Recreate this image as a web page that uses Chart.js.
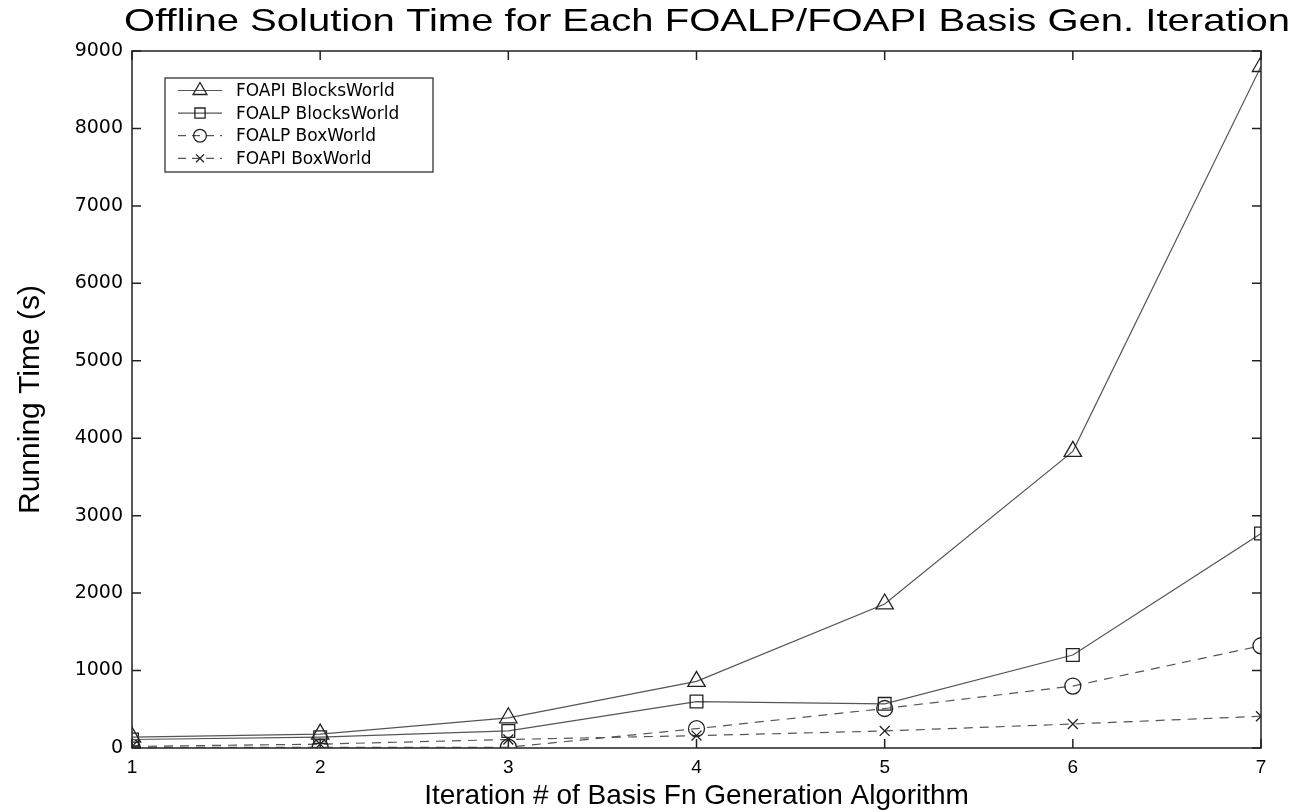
<!DOCTYPE html>
<html>
<head>
<meta charset="utf-8">
<script src="https://cdn.jsdelivr.net/npm/chart.js@4/dist/chart.umd.min.js"></script>
<style>
  html, body { margin: 0; padding: 0; background: #fff; }
  #wrap { width: 1296px; height: 812px; }
</style>
</head>
<body>
<div id="wrap"><canvas id="chart"></canvas></div>
<script>
// data
var iterations = [1, 2, 3, 4, 5, 6, 7];
var foapiBlocks = [140, 180, 390, 860, 1860, 3830, 8800];
var foalpBlocks = [110, 140, 220, 600, 570, 1200, 2770];
var foalpBox = [10, 10, 10, 250, 510, 800, 1320];
var foapiBox = [20, 50, 110, 160, 220, 310, 410];
var yTicks = [0, 1000, 2000, 3000, 4000, 5000, 6000, 7000, 8000, 9000];

var titleText = "Offline Solution Time for Each FOALP/FOAPI Basis Gen. Iteration";
var sans = "'Liberation Sans', Arial, sans-serif";
var wide = "'DejaVu Sans', 'Liberation Sans', sans-serif";

function pts(arr) {
    return iterations.map(function(x, i) { return { x: x, y: arr[i] }; });
}

function series(label, arr, style, radius, dashed) {
    return {
        label: label,
        data: pts(arr),
        borderColor: "#555",
        borderWidth: 1.2,
        borderDash: dashed ? [9, 7] : [],
        pointStyle: style,
        pointRadius: radius,
        pointBorderColor: "#222",
        pointBorderWidth: 1.3,
        pointBackgroundColor: "rgba(0,0,0,0)",
        tension: 0,
        fill: false
    };
}

// box, inward ticks, title and legend like the matlab figure
var framePlugin = {
    id: "frame",
    afterDraw: function(chart) {
        var ctx = chart.ctx, a = chart.chartArea;
        var xs = chart.scales.x, ys = chart.scales.y;
        ctx.save();
        ctx.strokeStyle = "#222";
        ctx.lineWidth = 1.5;
        ctx.strokeRect(a.left, a.top, a.right - a.left, a.bottom - a.top);
        ctx.beginPath();
        iterations.forEach(function(v) {
            var px = xs.getPixelForValue(v);
            ctx.moveTo(px, a.bottom); ctx.lineTo(px, a.bottom - 9);
            ctx.moveTo(px, a.top); ctx.lineTo(px, a.top + 9);
        });
        yTicks.forEach(function(v) {
            var py = ys.getPixelForValue(v);
            ctx.moveTo(a.left, py); ctx.lineTo(a.left + 9, py);
            ctx.moveTo(a.right, py); ctx.lineTo(a.right - 9, py);
        });
        ctx.stroke();

        // title, stretched to the figure's width
        ctx.fillStyle = "#000";
        ctx.font = "32px " + sans;
        ctx.textAlign = "center";
        ctx.textBaseline = "middle";
        var w = ctx.measureText(titleText).width;
        ctx.save();
        ctx.translate(707, 22);
        ctx.scale(1166 / w, 1);
        ctx.fillText(titleText, 0, 0);
        ctx.restore();

        // legend
        ctx.lineWidth = 1.2;
        ctx.strokeStyle = "#222";
        ctx.strokeRect(165, 78, 268, 94);
        ctx.font = "17px " + wide;
        ctx.textAlign = "left";
        chart.data.datasets.forEach(function(ds, i) {
            var y = 90.5 + i * 22.6;
            ctx.save();
            ctx.strokeStyle = ds.borderColor;
            ctx.lineWidth = ds.borderWidth;
            ctx.setLineDash(ds.borderDash.length ? [8, 6] : []);
            ctx.beginPath();
            ctx.moveTo(178, y); ctx.lineTo(222, y);
            ctx.stroke();
            ctx.setLineDash([]);
            ctx.strokeStyle = ds.pointBorderColor;
            ctx.fillStyle = ds.pointBackgroundColor;
            ctx.lineWidth = ds.pointBorderWidth;
            Chart.helpers.drawPoint(ctx, {
                pointStyle: ds.pointStyle,
                radius: ds.pointRadius * 0.8,
                rotation: 0,
                borderWidth: ds.pointBorderWidth
            }, 200, y);
            ctx.restore();
            ctx.fillStyle = "#000";
            ctx.fillText(ds.label, 236, y + 1);
        });
        ctx.restore();
    }
};

document.addEventListener("DOMContentLoaded", function() {
    var ctx = document.getElementById("chart").getContext("2d");
    new Chart(ctx, {
        type: "line",
        data: {
            datasets: [
                series("FOAPI BlocksWorld", foapiBlocks, "triangle", 10, false),
                series("FOALP BlocksWorld", foalpBlocks, "rect", 9, false),
                series("FOALP BoxWorld", foalpBox, "circle", 8, true),
                series("FOAPI BoxWorld", foapiBox, "crossRot", 7, true)
            ]
        },
        options: {
            responsive: true,
            maintainAspectRatio: false,
            animation: false,
            layout: { padding: { top: 51, right: 35, left: 0, bottom: 0 } },
            plugins: {
                legend: { display: false },
                title: { display: false },
                tooltip: { enabled: false }
            },
            scales: {
                x: {
                    type: "linear",
                    min: 1,
                    max: 7,
                    grid: { display: false, drawTicks: false },
                    border: { display: false },
                    ticks: {
                        stepSize: 1,
                        padding: 8,
                        color: "#000",
                        font: { family: sans, size: 19 }
                    },
                    title: {
                        display: true,
                        text: "Iteration # of Basis Fn Generation Algorithm",
                        color: "#000",
                        font: { family: sans, size: 28, lineHeight: 1 },
                        padding: { top: 0, bottom: 2 }
                    },
                    afterFit: function(s) { s.height = 64; }
                },
                y: {
                    min: 0,
                    max: 9000,
                    grid: { display: false, drawTicks: false },
                    border: { display: false },
                    ticks: {
                        stepSize: 1000,
                        padding: 9,
                        color: "#000",
                        font: { family: wide, size: 19 },
                        callback: function(v) { return String(v); }
                    },
                    title: {
                        display: true,
                        text: "Running Time (s)",
                        color: "#000",
                        font: { family: sans, size: 30, lineHeight: 1 },
                        padding: { top: 16, bottom: 0 }
                    },
                    afterFit: function(s) { s.width = 132; }
                }
            }
        },
        plugins: [framePlugin]
    });
});
</script>
</body>
</html>
